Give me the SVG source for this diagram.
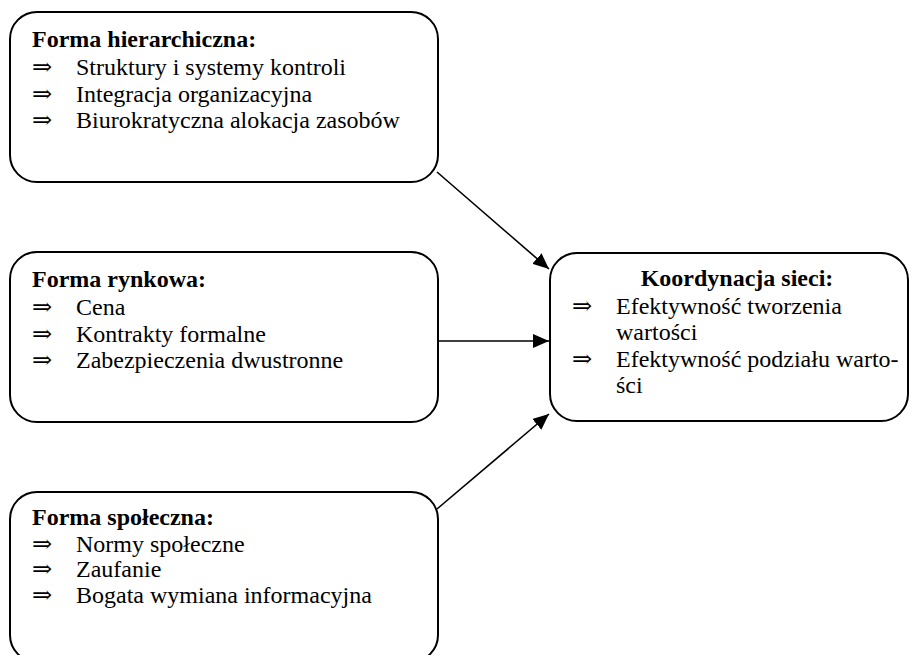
<svg xmlns="http://www.w3.org/2000/svg" width="910" height="655" viewBox="0 0 910 655">
<style>
.box{fill:#fff;stroke:#000;stroke-width:2}
text{font-family:'Liberation Serif','DejaVu Serif',serif;font-size:24px;font-weight:normal;fill:#000}
.b{font-weight:bold}
.c{stroke:#000;stroke-width:1.6;fill:none}
</style>
<defs>
<marker id="ah" markerWidth="16" markerHeight="14" refX="16" refY="7" orient="auto" markerUnits="userSpaceOnUse">
<path d="M0,0 L16,7 L0,14 Z" fill="#000"/>
</marker>
</defs>
<rect width="910" height="655" fill="#fff"/>
<g id="connectors">
<line class="c" x1="437" y1="172" x2="549" y2="269" marker-end="url(#ah)"/>
<line class="c" x1="438" y1="341" x2="549" y2="341" marker-end="url(#ah)"/>
<line class="c" x1="437" y1="509" x2="549" y2="414" marker-end="url(#ah)"/>
</g>
<g id="hierarchiczna">
<rect class="box" x="10" y="12" width="428" height="170" rx="27" ry="27"/>
<text class="b" x="32" y="47">Forma hierarchiczna:</text>
<text x="32" y="75">⇒</text><text x="76" y="75">Struktury i systemy kontroli</text>
<text x="32" y="101.5">⇒</text><text x="76" y="101.5">Integracja organizacyjna</text>
<text x="32" y="128">⇒</text><text x="76" y="128">Biurokratyczna alokacja zasobów</text>
</g>
<g id="rynkowa">
<rect class="box" x="10" y="252" width="428" height="170" rx="27" ry="27"/>
<text class="b" x="32" y="287">Forma rynkowa:</text>
<text x="32" y="315">⇒</text><text x="76" y="315">Cena</text>
<text x="32" y="341.5">⇒</text><text x="76" y="341.5">Kontrakty formalne</text>
<text x="32" y="368">⇒</text><text x="76" y="368">Zabezpieczenia dwustronne</text>
</g>
<g id="spoleczna">
<rect class="box" x="10" y="492" width="428" height="170" rx="27" ry="27"/>
<text class="b" x="32" y="525">Forma społeczna:</text>
<text x="32" y="551.5">⇒</text><text x="76" y="551.5">Normy społeczne</text>
<text x="32" y="577">⇒</text><text x="76" y="577">Zaufanie</text>
<text x="32" y="603">⇒</text><text x="76" y="603">Bogata wymiana informacyjna</text>
</g>
<g id="koordynacja">
<rect class="box" x="550" y="253" width="358" height="168" rx="27" ry="27"/>
<text class="b" x="737" y="286" text-anchor="middle">Koordynacja sieci:</text>
<text x="572" y="314">⇒</text><text x="616" y="314">Efektywność tworzenia</text>
<text x="616" y="340">wartości</text>
<text x="572" y="367">⇒</text><text x="616" y="367">Efektywność podziału warto-</text>
<text x="616" y="393">ści</text>
</g>
</svg>
